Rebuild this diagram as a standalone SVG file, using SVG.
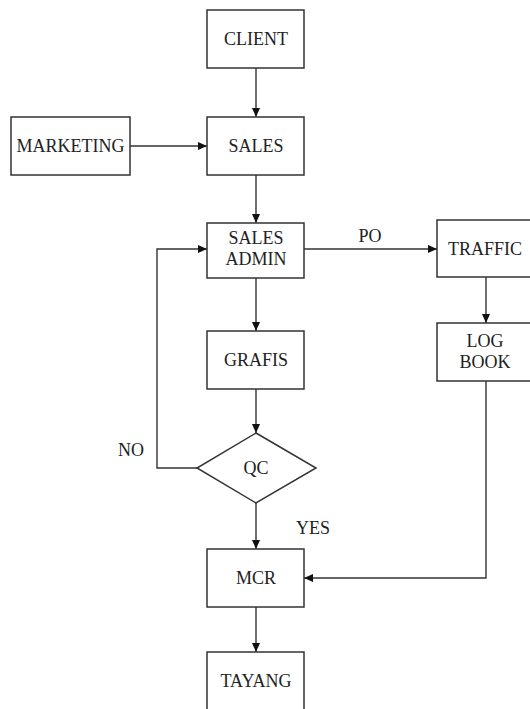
<svg xmlns="http://www.w3.org/2000/svg" width="530" height="709" viewBox="0 0 530 709">
<style>
.box{fill:#fff;stroke:#333;stroke-width:1.5}
.t{font-family:"Liberation Serif","Times New Roman",serif;font-size:18px;fill:#222;text-anchor:middle}
.c{fill:none;stroke:#333;stroke-width:1.4}
</style>
<defs>
<marker id="ah" markerWidth="9" markerHeight="8" refX="9" refY="4" orient="auto" markerUnits="userSpaceOnUse">
<path d="M0,0 L9,4 L0,8 Z" fill="#111"/>
</marker>
</defs>
<rect width="530" height="709" fill="#fff"/>
<g id="connectors">
<line class="c" x1="256" y1="68" x2="256" y2="117" marker-end="url(#ah)"/>
<line class="c" x1="130" y1="146" x2="207" y2="146" marker-end="url(#ah)"/>
<line class="c" x1="256" y1="175" x2="256" y2="223" marker-end="url(#ah)"/>
<line class="c" x1="304" y1="249" x2="437" y2="249" marker-end="url(#ah)"/>
<line class="c" x1="256" y1="278" x2="256" y2="331" marker-end="url(#ah)"/>
<line class="c" x1="256" y1="389" x2="256" y2="433" marker-end="url(#ah)"/>
<polyline class="c" points="197,468 157,468 157,249 207,249" marker-end="url(#ah)"/>
<line class="c" x1="256" y1="503" x2="256" y2="549" marker-end="url(#ah)"/>
<line class="c" x1="486" y1="277" x2="486" y2="323" marker-end="url(#ah)"/>
<polyline class="c" points="486,381 486,578 304,578" marker-end="url(#ah)"/>
<line class="c" x1="256" y1="607" x2="256" y2="652" marker-end="url(#ah)"/>
<text class="t" x="370" y="242">PO</text>
<text class="t" x="131" y="456">NO</text>
<text class="t" x="313" y="534">YES</text>
</g>
<g id="client"><rect class="box" x="207" y="10" width="97" height="58"/><text class="t" x="256" y="45">CLIENT</text></g>
<g id="marketing"><rect class="box" x="11" y="117" width="119" height="58"/><text class="t" x="70.5" y="152">MARKETING</text></g>
<g id="sales"><rect class="box" x="207" y="117" width="97" height="58"/><text class="t" x="256" y="152">SALES</text></g>
<g id="sales-admin"><rect class="box" x="207" y="223" width="97" height="55"/><text class="t" x="256" y="244">SALES</text><text class="t" x="256" y="265">ADMIN</text></g>
<g id="traffic"><rect class="box" x="437" y="220" width="97" height="57"/><text class="t" x="485" y="255">TRAFFIC</text></g>
<g id="log-book"><rect class="box" x="437" y="323" width="97" height="58"/><text class="t" x="485" y="347">LOG</text><text class="t" x="485" y="368">BOOK</text></g>
<g id="grafis"><rect class="box" x="207" y="331" width="97" height="58"/><text class="t" x="256" y="366">GRAFIS</text></g>
<g id="qc"><polygon class="box" points="256,433 316,468 256,503 197,468"/><text class="t" x="256" y="474">QC</text></g>
<g id="mcr"><rect class="box" x="207" y="549" width="97" height="58"/><text class="t" x="256" y="584">MCR</text></g>
<g id="tayang"><rect class="box" x="207" y="652" width="97" height="62"/><text class="t" x="256" y="687">TAYANG</text></g>
</svg>
